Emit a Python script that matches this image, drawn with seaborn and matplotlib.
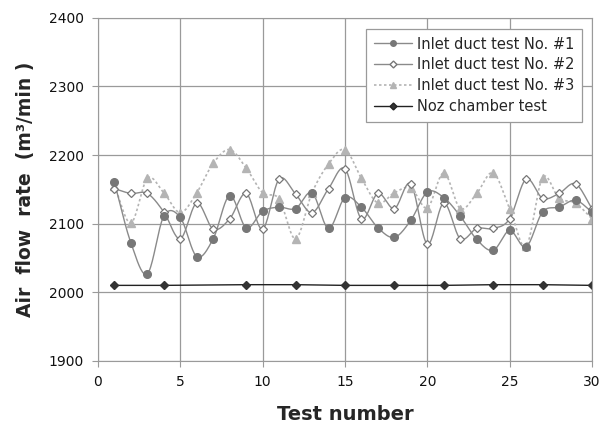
import numpy as np
import pandas as pd
import seaborn as sns
import matplotlib.pyplot as plt
from matplotlib.lines import Line2D

test_no = list(range(1, 31))
inlet_1 = [2160, 2072, 2027, 2111, 2109, 2052, 2078, 2141, 2094, 2118,
           2124, 2122, 2145, 2093, 2138, 2124, 2094, 2080, 2105, 2146,
           2138, 2111, 2077, 2061, 2090, 2066, 2117, 2124, 2134, 2117]
inlet_2 = [2151, 2144, 2144, 2117, 2078, 2130, 2092, 2107, 2144, 2092,
           2165, 2143, 2116, 2151, 2180, 2107, 2144, 2122, 2158, 2070,
           2130, 2078, 2093, 2093, 2107, 2165, 2137, 2144, 2158, 2122]
inlet_3 = [2155, 2101, 2166, 2145, 2116, 2145, 2188, 2208, 2181, 2145,
           2136, 2078, 2145, 2187, 2208, 2166, 2130, 2145, 2152, 2123,
           2174, 2122, 2144, 2174, 2122, 2067, 2167, 2137, 2130, 2107]
noz_x = [1, 4, 9, 12, 15, 18, 21, 24, 27, 30]
noz_y = [2010, 2010, 2011, 2011, 2010, 2010, 2010, 2011, 2011, 2010]

labels = ["Inlet duct test No. #1", "Inlet duct test No. #2",
          "Inlet duct test No. #3", "Noz chamber test"]


def smooth(x, y, n=20):
    # catmull-rom path through the points, like a "smoothed line" chart
    x = np.asarray(x, float)
    y = np.asarray(y, float)
    px = np.concatenate([[2 * x[0] - x[1]], x, [2 * x[-1] - x[-2]]])
    py = np.concatenate([[2 * y[0] - y[1]], y, [2 * y[-1] - y[-2]]])
    xs, ys = [], []
    t = np.linspace(0, 1, n, endpoint=False)
    for i in range(1, len(px) - 2):
        for p, out in ((px, xs), (py, ys)):
            p0, p1, p2, p3 = p[i - 1], p[i], p[i + 1], p[i + 2]
            out.extend(0.5 * (2 * p1 + (-p0 + p2) * t
                              + (2 * p0 - 5 * p1 + 4 * p2 - p3) * t ** 2
                              + (-p0 + 3 * p1 - 3 * p2 + p3) * t ** 3))
    xs.append(x[-1])
    ys.append(y[-1])
    return pd.DataFrame({"x": xs, "y": ys})


sns.set_style("white")
plt.rcParams['font.family'] = ['DejaVu Sans']

fig = plt.figure(figsize=(6.01, 4.25), dpi=100)
ax = fig.add_axes([0.163, 0.151, 0.822, 0.807])

c_line = "#8a8a8a"
c_dark = "#777777"
c_light = "#b4b4b4"

s1 = smooth(test_no, inlet_1)
s2 = smooth(test_no, inlet_2)
s3 = smooth(test_no, inlet_3)
sns.lineplot(data=s3, x="x", y="y", ax=ax, color=c_light, lw=1.2,
             linestyle=(0, (1.5, 1.5)), sort=False, estimator=None)
sns.lineplot(data=s2, x="x", y="y", ax=ax, color=c_line, lw=1.0,
             sort=False, estimator=None)
sns.lineplot(data=s1, x="x", y="y", ax=ax, color=c_line, lw=1.0,
             sort=False, estimator=None)

ax.plot(test_no, inlet_3, ls="none", marker="^", ms=5.5, color=c_light)
ax.plot(test_no, inlet_2, ls="none", marker="D", ms=4, mfc="white",
        mec=c_dark, mew=0.9)
ax.plot(test_no, inlet_1, ls="none", marker="o", ms=5.5, color=c_dark)
ax.plot(noz_x, noz_y, color="#222222", lw=1.0, marker="D", ms=4.5,
        mfc="#333333", mec="#333333")

ax.set_xlim(0, 30)
ax.set_ylim(1900, 2400)
ax.set_xticks(range(0, 31, 5))
ax.set_yticks(range(1900, 2401, 100))
ax.grid(True, color="#9a9a9a", lw=0.9)
for sp in ax.spines.values():
    sp.set_color("#9a9a9a")
ax.tick_params(axis="both", length=4, color="#9a9a9a", labelsize=10,
               direction="out", left=True, bottom=True, pad=6,
               labelcolor="#111111")
ax.set_xlabel("Test number", fontsize=14, fontweight="bold", labelpad=12)
ax.set_ylabel("Air  flow  rate  (m³/min )", fontsize=13.5, fontweight="bold",
              labelpad=10)

handles = [
    Line2D([], [], color=c_line, lw=1.0, marker="o", ms=4, mfc=c_dark, mec=c_dark),
    Line2D([], [], color=c_line, lw=1.0, marker="D", ms=3.5, mfc="white", mec=c_dark),
    Line2D([], [], color=c_light, lw=1.2, ls=(0, (1.5, 1.5)), marker="^", ms=4),
    Line2D([], [], color="#222222", lw=1.0, marker="D", ms=3.5, mfc="#333333"),
]
leg = ax.legend(handles, labels, loc="upper right", fontsize=10.5,
                frameon=True, fancybox=False, framealpha=1, edgecolor="#9a9a9a",
                handlelength=2.6, handletextpad=0.3, borderpad=0.55,
                labelspacing=0.4, bbox_to_anchor=(0.995, 0.99))
leg.get_frame().set_linewidth(0.9)

plt.savefig("out.png", dpi=100)
plt.close()
